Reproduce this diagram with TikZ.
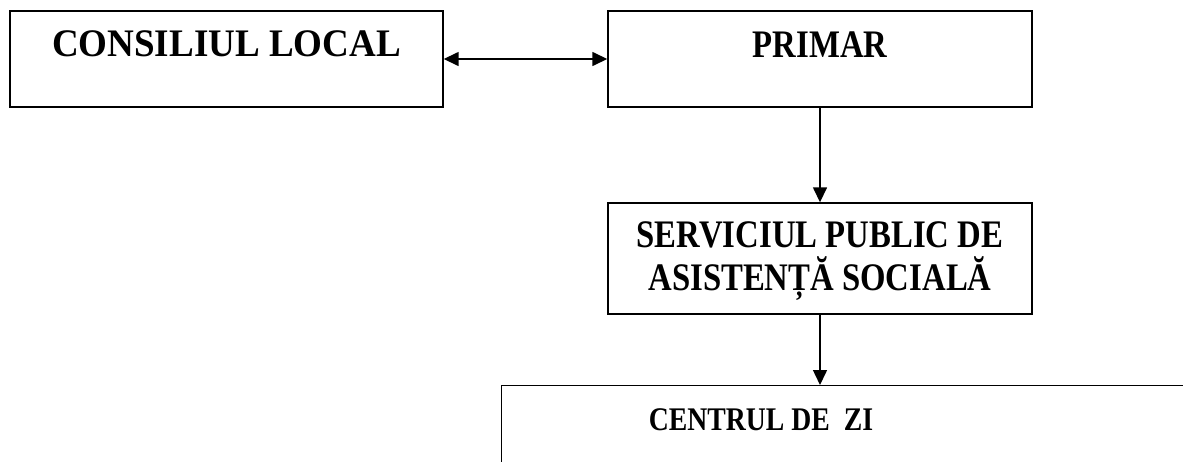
\documentclass[tikz,border=0pt]{standalone}
\usepackage{graphicx}
\usepackage{fontspec}
\setmainfont{Liberation Serif}
\usetikzlibrary{arrows.meta,calc,positioning}
\newcommand{\narrow}[2][0.84]{\scalebox{#1}[1]{#2}}

\begin{document}
\begin{tikzpicture}[line width=1.5pt,
  >={Triangle[length=15pt,width=14pt]},
  box/.style={rectangle, draw, line width=1.4pt, inner sep=0pt,
    font=\fontsize{39}{43}\selectfont\bfseries}]
    \tikzstyle{title}=[font=\fontsize{33}{40}\selectfont\bfseries, anchor=base]

    \useasboundingbox (0,0) rectangle (1183pt,-461pt);
    \clip (0,0) rectangle (1183pt,-461pt);

    \node[box, minimum width=433pt, text height=45pt, text depth=51pt,
      anchor=base] (cons) at (226.5pt,-56pt) {\narrow[0.95]{CONSILIUL LOCAL}};
    \node[box, minimum width=424pt, text height=46pt, text depth=50pt,
      anchor=base] (primar) at (820pt,-57pt) {\narrow{PRIMAR}};
    \node[box, minimum width=424pt, text height=87pt, text depth=24pt,
      align=center, anchor=base] (serv) at (820pt,-290pt)
      {\narrow{SERVICIUL PUBLIC DE}\\\narrow{ASISTENȚĂ SOCIALĂ}};
    \node[box, minimum width=900pt, minimum height=200pt,
      anchor=north west] (centru) at (501pt,-385pt) {};
    \node[title] (centrutext) at (761pt,-430pt) {\narrow{CENTRUL DE~ ZI}};

    \draw[<->] (cons) -- (primar);
    \draw[->] (primar) -- (serv);
    \draw[->] (serv) -- (serv |- centru.north);

\end{tikzpicture}
\end{document}
